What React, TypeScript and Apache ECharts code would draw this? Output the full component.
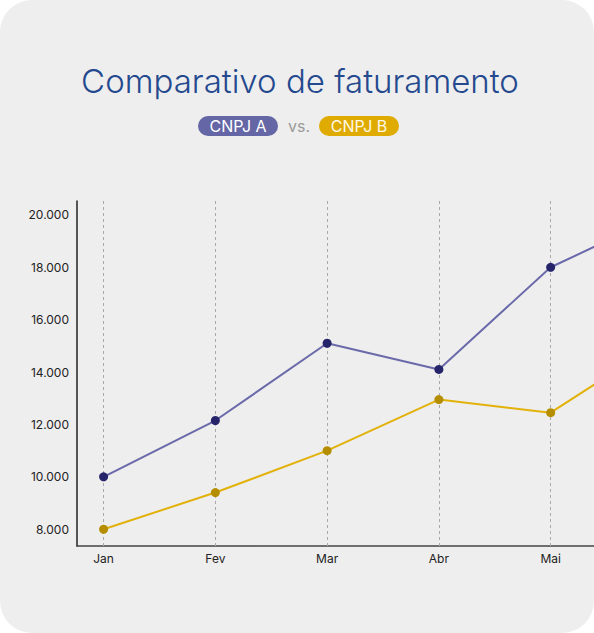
import React, { useEffect, useRef } from "react";
import * as echarts from "echarts";

const months = ["Jan", "Fev", "Mar", "Abr", "Mai", "Jun"];
const monthIndex = [0, 1, 2, 3, 4, 5];
const labelIndex = [0, 1, 2, 3, 4];
const cnpjA = [10000, 12150, 15100, 14100, 18000, 20000];
const cnpjB = [8000, 9400, 11000, 12950, 12450, 15200];
const yTicks = [8000, 10000, 12000, 14000, 16000, 18000, 20000];
const title = "Comparativo de faturamento";
const legendA = "CNPJ A";
const legendB = "CNPJ B";
const vsText = "vs.";

const fmt = (v: number) => String(Math.round(v)).replace(/\B(?=(\d{3})+(?!\d))/g, ".");

export default function App() {
  const ref = useRef<HTMLDivElement>(null);
  useEffect(() => {
    document.body.style.margin = "0";
    const chart = echarts.init(ref.current!, null, { renderer: "svg" });
    const pairsA = monthIndex.map((x, i) => [x, cnpjA[i]]);
    const pairsB = monthIndex.map((x, i) => [x, cnpjB[i]]);
    chart.setOption({
      animation: false,
      textStyle: { fontFamily: "Inter" },
      graphic: [
        {
          type: "text",
          x: 300,
          y: 81,
          style: {
            text: title,
            fill: "#24498e",
            font: '300 33px "Inter"',
            textAlign: "center",
            textVerticalAlign: "middle",
          },
        },
        {
          type: "group",
          children: [
            { type: "rect", shape: { x: 198, y: 116, width: 80, height: 20, r: 10 }, style: { fill: "#6466a6" } },
            {
              type: "text",
              x: 238,
              y: 126,
              style: { text: legendA, fill: "#ffffff", font: '400 16px "Inter"', textAlign: "center", textVerticalAlign: "middle" },
            },
            {
              type: "text",
              x: 299,
              y: 126,
              style: { text: vsText, fill: "#9a9a9a", font: '400 16px "Inter"', textAlign: "center", textVerticalAlign: "middle" },
            },
            { type: "rect", shape: { x: 319, y: 116, width: 80, height: 20, r: 10 }, style: { fill: "#e0ab00" } },
            {
              type: "text",
              x: 359,
              y: 126,
              style: { text: legendB, fill: "#fff8e6", font: '400 16px "Inter"', textAlign: "center", textVerticalAlign: "middle" },
            },
          ],
        },
      ],
      grid: { left: 77, top: 201, bottom: 87, right: 31, containLabel: false },
      xAxis: {
        type: "value",
        min: -0.238,
        max: 5.238,
        axisLine: { show: true, onZero: false, lineStyle: { color: "#444", width: 1.5 } },
        axisTick: { show: false },
        splitLine: { show: false },
        axisLabel: {
          customValues: labelIndex,
          formatter: (v: number) => months[Math.round(v)] ?? "",
          color: "#222",
          fontSize: 12,
          margin: 6,
          fontFamily: "Inter",
        },
      },
      yAxis: {
        type: "value",
        min: 7360,
        max: 20530,
        axisLine: { show: true, onZero: false, lineStyle: { color: "#222", width: 1.5 } },
        axisTick: { show: false },
        splitLine: { show: false },
        axisLabel: {
          customValues: yTicks,
          formatter: (v: number) => fmt(v),
          color: "#222",
          fontSize: 12,
          margin: 8,
          fontFamily: "Inter",
        },
      },
      series: [
        {
          type: "line",
          data: pairsA,
          z: 1,
          showSymbol: false,
          silent: true,
          lineStyle: { opacity: 0 },
          markLine: {
            silent: true,
            z: 1,
            symbol: ["none", "none"],
            label: { show: false },
            lineStyle: { color: "#a9a9a9", type: [3, 3], width: 1 },
            data: monthIndex.map((x) => ({ xAxis: x })),
          },
        },
        {
          name: legendA,
          type: "line",
          data: pairsA,
          z: 3,
          symbol: "circle",
          symbolSize: 9,
          lineStyle: { color: "#6a69a9", width: 2 },
          itemStyle: { color: "#25246a" },
        },
        {
          name: legendB,
          type: "line",
          data: pairsB,
          z: 3,
          symbol: "circle",
          symbolSize: 9,
          lineStyle: { color: "#e2b10a", width: 2 },
          itemStyle: { color: "#b58e00" },
        },
      ],
    });
    return () => chart.dispose();
  }, []);
  return (
    <div
      style={{
        position: "relative",
        width: 594,
        height: 633,
        overflow: "hidden",
        borderRadius: 32,
        background: "#eeeeee",
      }}
    >
      <div ref={ref} style={{ position: "absolute", left: 0, top: 0, width: 720, height: 633 }} />
    </div>
  );
}
